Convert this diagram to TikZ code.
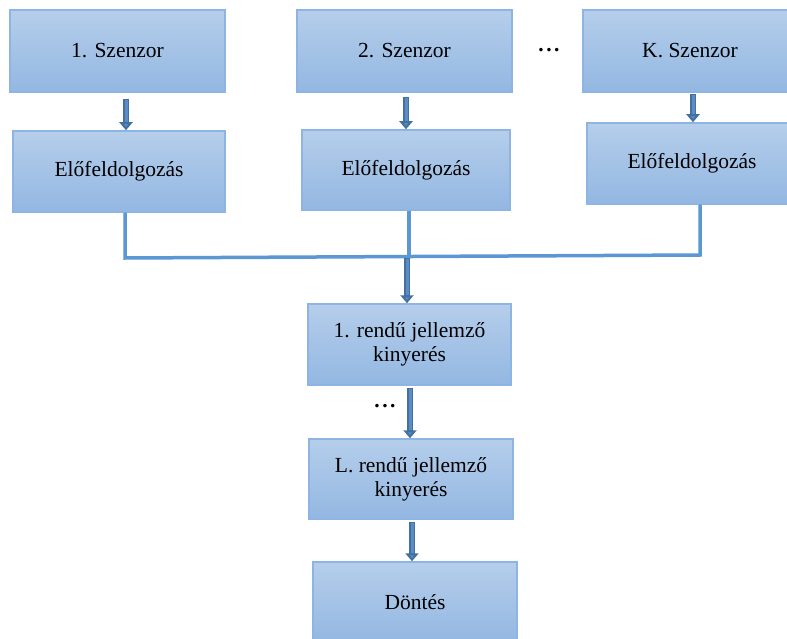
\documentclass[tikz,border=0pt]{standalone}
\usepackage{fontspec}
\setmainfont{Liberation Serif}
\usetikzlibrary{arrows.meta,calc}
\definecolor{boxtop}{HTML}{B5CEEB}
\definecolor{boxbot}{HTML}{93B7E2}
\definecolor{boxline}{HTML}{8DB4E2}
\definecolor{arrowc}{HTML}{41719C}
\definecolor{arrowin}{HTML}{5B8BC9}
\definecolor{linec}{HTML}{5B97D3}
\tikzset{
  box/.style={draw=boxline, line width=1.5pt, top color=boxtop, bottom color=boxbot,
    inner sep=0pt, align=center, font=\fontsize{21.5}{24}\selectfont},
  blockarrow/.style={draw=arrowc, line width=5.5pt, -{Triangle[width=13pt,length=8pt,fill=arrowin]}},
  arrowcore/.style={draw=arrowin, line width=3pt, shorten >=8pt, shorten <=1.2pt},
  joinline/.style={draw=linec, line width=3.5pt},
  dots/.style={font=\bfseries\fontsize{21.5}{24}\selectfont, inner sep=0pt}
}
\begin{document}
\begin{tikzpicture}[x=1pt,y=-1pt]
\clip (0,0) rectangle (787,639);
\fill[white] (0,0) rectangle (787,639);
% boxes
\node[box, minimum width=215, minimum height=82] (s1) at (117.5,51) {1. Szenzor};
\node[box, minimum width=212, minimum height=81] (e1) at (119,171.5) {Előfeldolgozás};
\node[box, minimum width=215, minimum height=82] (s2) at (404.5,51) {2. Szenzor};
\node[box, minimum width=208, minimum height=80] (e2) at (406,170) {Előfeldolgozás};
\node[box, minimum width=214, minimum height=82] (sk) at (690,51) {K. Szenzor};
\node[box, minimum width=210, minimum height=81] (ek) at (692,163.5) {Előfeldolgozás};
\node[box, minimum width=203, minimum height=81] (r1) at (409.5,344.5) {1. rendű jellemző\\kinyerés};
\node[box, minimum width=204, minimum height=80] (rl) at (411,479) {L. rendű jellemző\\kinyerés};
\node[box, minimum width=204, minimum height=80] (d) at (415,602) {Döntés};
\node[dots] (dt) at (549,50) {.\kern2.5pt.\kern2.5pt.};
\node[dots] (dm) at (385,406) {.\kern2.5pt.\kern2.5pt.};
% sensor -> preprocessing arrows
\coordinate (a1) at ($(s1.south)+(8.5,6)$);
\draw[blockarrow] (a1) -- (a1 |- e1.north);
\draw[arrowcore] (a1) -- (a1 |- e1.north);
\coordinate (a2) at ($(s2.south)+(1.5,4)$);
\draw[blockarrow] (a2) -- (a2 |- e2.north);
\draw[arrowcore] (a2) -- (a2 |- e2.north);
\coordinate (ak) at ($(sk.south)+(3,1.5)$);
\draw[blockarrow] (ak) -- (ak |- ek.north);
\draw[arrowcore] (ak) -- (ak |- ek.north);
% joining lines
\coordinate (j1) at (125,258);
\coordinate (j2) at (409,256.5);
\coordinate (jk) at (700,255);
\draw[joinline] (j1 |- e1.south) -- (j1) -- (jk) -- (jk |- ek.south);
\draw[joinline] (j2 |- e2.south) -- (j2);
\coordinate (m0) at (407,258);
\draw[blockarrow] (m0) -- (m0 |- r1.north);
\draw[arrowcore] (m0) -- (m0 |- r1.north);
\coordinate (m1) at ($(r1.south)+(0.5,2)$);
\draw[blockarrow] (m1) -- (m1 |- rl.north);
\draw[arrowcore] (m1) -- (m1 |- rl.north);
\coordinate (m2) at ($(rl.south)+(1,2)$);
\draw[blockarrow] (m2) -- (m2 |- d.north);
\draw[arrowcore] (m2) -- (m2 |- d.north);
\end{tikzpicture}
\end{document}
